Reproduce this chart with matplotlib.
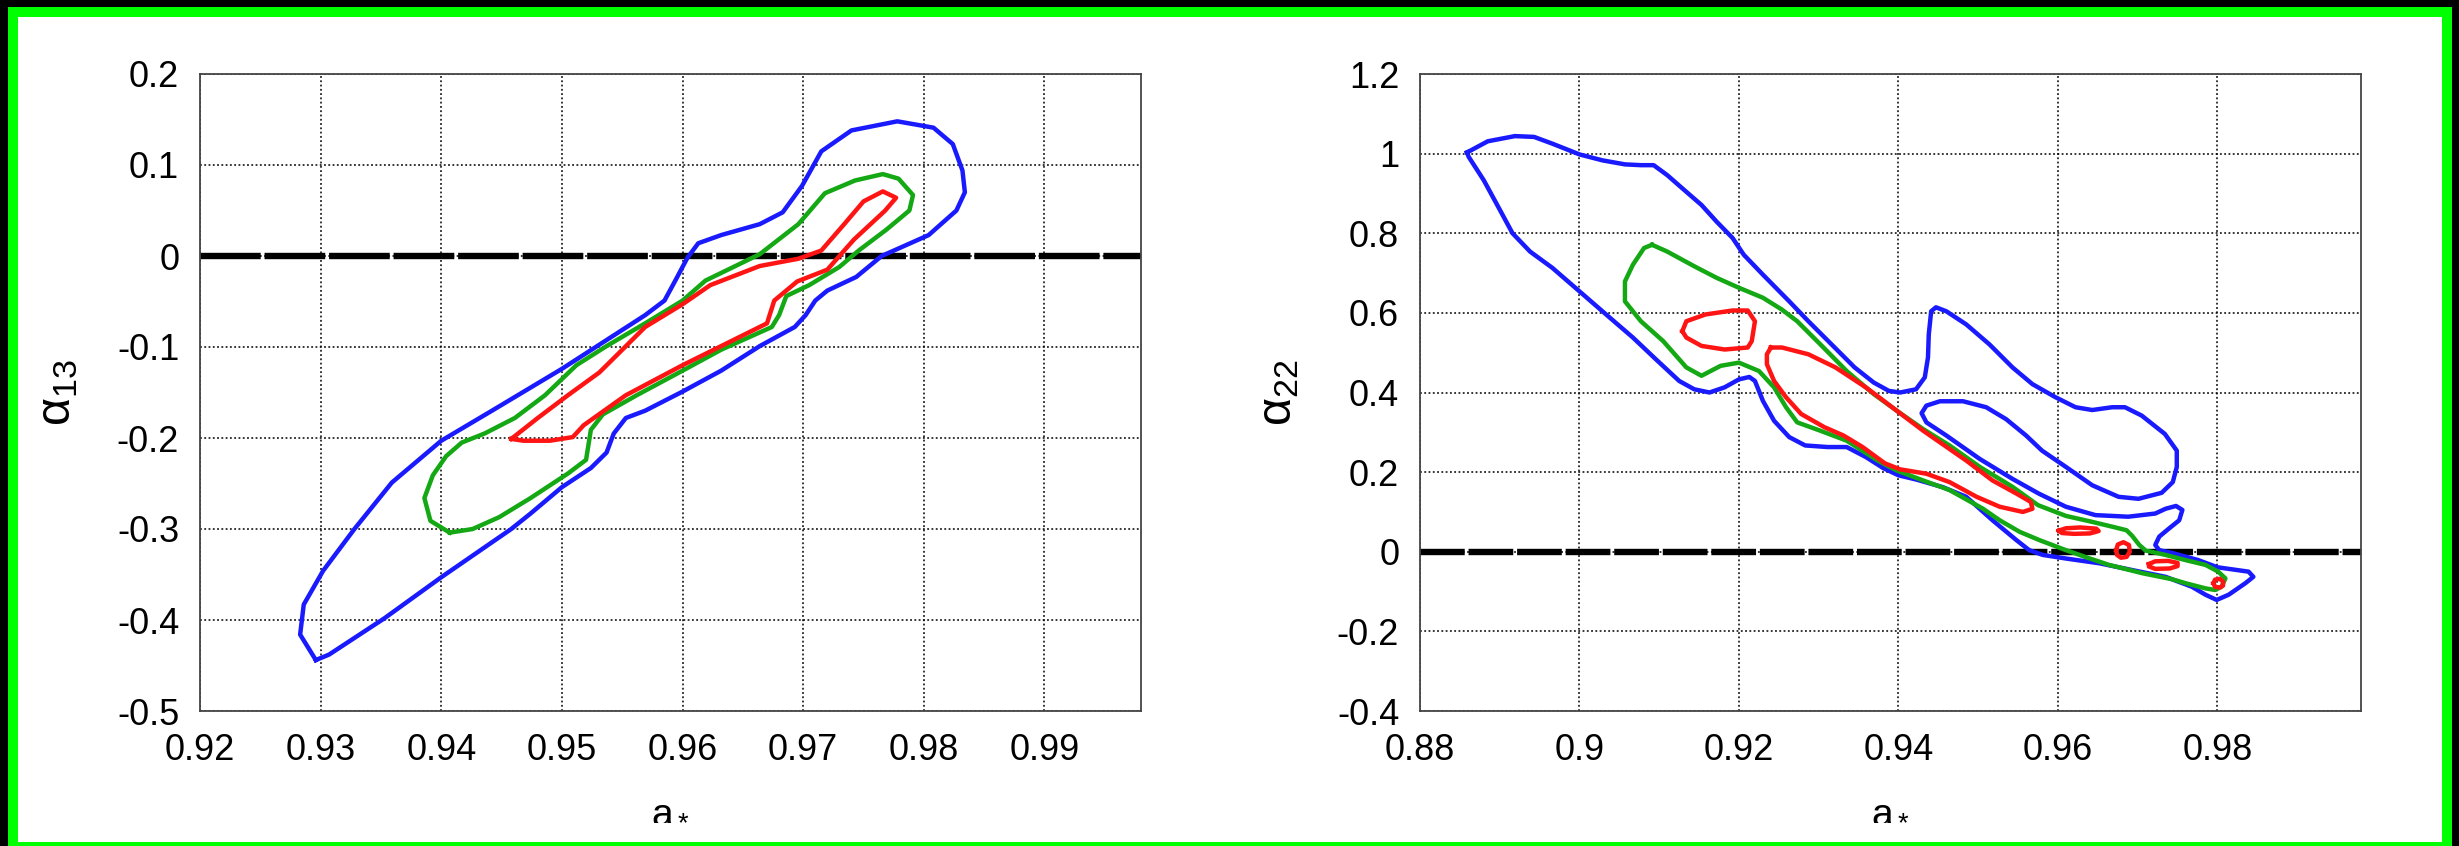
import numpy as np
import matplotlib.pyplot as plt
from matplotlib.patches import Rectangle

plt.rcParams['font.family'] = ['Liberation Sans', 'DejaVu Sans']
plt.rcParams['mathtext.fontset'] = 'custom'
plt.rcParams['mathtext.rm'] = 'Liberation Sans'
plt.rcParams['mathtext.it'] = 'Liberation Sans'
plt.rcParams['mathtext.bf'] = 'Liberation Sans'

# ---------------- left panel: alpha_13 vs a* ----------------
left_xticks = [0.92, 0.93, 0.94, 0.95, 0.96, 0.97, 0.98, 0.99]
left_xlabels = ['0.92', '0.93', '0.94', '0.95', '0.96', '0.97', '0.98', '0.99']
left_yticks = [-0.5, -0.4, -0.3, -0.2, -0.1, 0.0, 0.1, 0.2]
left_ylabels = ['-0.5', '-0.4', '-0.3', '-0.2', '-0.1', '0', '0.1', '0.2']

# blue (outermost) contour
left_blue_x = [0.9296, 0.9283, 0.9286, 0.9302, 0.9328, 0.9359, 0.9400, 0.9442, 0.9500,
               0.9569, 0.9585, 0.9594, 0.9604, 0.9613, 0.9632, 0.9664, 0.9683, 0.9699,
               0.9715, 0.9740, 0.9778, 0.9808, 0.9824, 0.9832, 0.9834, 0.9827, 0.9804,
               0.9765, 0.9744, 0.9720, 0.9710, 0.9702, 0.9693, 0.9664, 0.9632, 0.9600,
               0.9569, 0.9553, 0.9543, 0.9537, 0.9524, 0.9500, 0.9474, 0.9458, 0.9400,
               0.9353, 0.9307]
left_blue_y = [-0.444, -0.416, -0.383, -0.346, -0.300, -0.249, -0.203, -0.170, -0.124,
               -0.065, -0.049, -0.027, -0.002, 0.014, 0.023, 0.035, 0.048, 0.077,
               0.115, 0.138, 0.148, 0.141, 0.123, 0.094, 0.070, 0.050, 0.023,
               0.000, -0.023, -0.038, -0.049, -0.065, -0.078, -0.099, -0.126, -0.149,
               -0.170, -0.178, -0.195, -0.216, -0.233, -0.254, -0.283, -0.300, -0.353,
               -0.398, -0.438]

# green (middle) contour
left_green_x = [0.9407, 0.9391, 0.9386, 0.9393, 0.9404, 0.9417, 0.9436, 0.9461, 0.9486,
                0.9512, 0.9537, 0.9569, 0.9600, 0.9619, 0.9664, 0.9696, 0.9718, 0.9743,
                0.9766, 0.9779, 0.9791, 0.9788, 0.9769, 0.9746, 0.9730, 0.9705, 0.9686,
                0.9680, 0.9674, 0.9632, 0.9600, 0.9562, 0.9534, 0.9524, 0.9520, 0.9505,
                0.9474, 0.9448, 0.9426]
left_green_y = [-0.304, -0.291, -0.266, -0.241, -0.220, -0.205, -0.195, -0.178, -0.153,
                -0.120, -0.099, -0.074, -0.049, -0.027, 0.002, 0.035, 0.069, 0.083,
                0.090, 0.085, 0.067, 0.050, 0.029, 0.006, -0.012, -0.032, -0.044,
                -0.065, -0.078, -0.103, -0.126, -0.153, -0.174, -0.191, -0.224, -0.239,
                -0.266, -0.287, -0.300]

# red (innermost) contour
left_red_x = [0.9458, 0.9480, 0.9505, 0.9531, 0.9547, 0.9569, 0.9600, 0.9623, 0.9664,
              0.9696, 0.9715, 0.9734, 0.9750, 0.9766, 0.9777, 0.9768, 0.9742, 0.9720,
              0.9695, 0.9676, 0.9670, 0.9632, 0.9600, 0.9553, 0.9518, 0.9509, 0.9490,
              0.9468]
left_red_y = [-0.201, -0.178, -0.153, -0.128, -0.107, -0.078, -0.053, -0.032, -0.011,
              -0.003, 0.006, 0.035, 0.060, 0.071, 0.064, 0.050, 0.018, -0.015,
              -0.028, -0.049, -0.074, -0.099, -0.120, -0.153, -0.186, -0.199, -0.203,
              -0.203]

# ---------------- right panel: alpha_22 vs a* ----------------
right_xticks = [0.88, 0.90, 0.92, 0.94, 0.96, 0.98]
right_xlabels = ['0.88', '0.9', '0.92', '0.94', '0.96', '0.98']
right_yticks = [-0.4, -0.2, 0.0, 0.2, 0.4, 0.6, 0.8, 1.0, 1.2]
right_ylabels = ['-0.4', '-0.2', '0', '0.2', '0.4', '0.6', '0.8', '1', '1.2']

right_blue_x = [0.8859, 0.8885, 0.8919, 0.8943, 0.8966, 0.9000, 0.9029, 0.9057, 0.9077,
                0.9093, 0.9110, 0.9134, 0.9153, 0.9172, 0.9192, 0.9206, 0.9230, 0.9263,
                0.9287, 0.9316, 0.9345, 0.9369, 0.9388, 0.9402, 0.9422, 0.9433, 0.9437,
                0.9438, 0.9441, 0.9447, 0.9460, 0.9485, 0.9514, 0.9543, 0.9568, 0.9597,
                0.9622, 0.9643, 0.9668, 0.9684, 0.9705, 0.9734, 0.9749, 0.9749, 0.9744,
                0.9730, 0.9701, 0.9676, 0.9643, 0.9610, 0.9580, 0.9560, 0.9535, 0.9510,
                0.9481, 0.9452, 0.9435, 0.9429, 0.9435, 0.9460, 0.9502, 0.9543, 0.9576,
                0.9610, 0.9647, 0.9688, 0.9722, 0.9735, 0.9748, 0.9756, 0.9752, 0.9739,
                0.9727, 0.9722, 0.9727, 0.9743, 0.9776, 0.9800, 0.9839, 0.9845, 0.9835,
                0.9814, 0.9799, 0.9785, 0.9768, 0.9735, 0.9693, 0.9652, 0.9610, 0.9581,
                0.9564, 0.9548, 0.9518, 0.9485, 0.9456, 0.9423, 0.9400, 0.9381, 0.9359,
                0.9335, 0.9311, 0.9283, 0.9263, 0.9244, 0.9230, 0.9220, 0.9213, 0.9200,
                0.9182, 0.9163, 0.9144, 0.9125, 0.9096, 0.9067, 0.9038, 0.9000, 0.8966,
                0.8938, 0.8916, 0.8899, 0.8880, 0.8861]
right_blue_y = [1.003, 1.031, 1.044, 1.042, 1.025, 0.998, 0.983, 0.973, 0.971,
                0.971, 0.946, 0.904, 0.871, 0.829, 0.788, 0.746, 0.696, 0.629,
                0.579, 0.521, 0.463, 0.425, 0.404, 0.400, 0.408, 0.438, 0.488,
                0.546, 0.604, 0.614, 0.604, 0.571, 0.521, 0.463, 0.421, 0.388,
                0.363, 0.356, 0.363, 0.363, 0.342, 0.296, 0.254, 0.213, 0.175,
                0.148, 0.133, 0.138, 0.167, 0.213, 0.254, 0.292, 0.333, 0.363,
                0.378, 0.378, 0.367, 0.348, 0.325, 0.292, 0.233, 0.183, 0.146,
                0.113, 0.092, 0.088, 0.096, 0.108, 0.115, 0.105, 0.079, 0.058,
                0.038, 0.017, 0.004, -0.003, -0.021, -0.039, -0.050, -0.063, -0.079,
                -0.108, -0.121, -0.108, -0.088, -0.063, -0.046, -0.029, -0.017, -0.008,
                0.004, 0.029, 0.079, 0.138, 0.162, 0.181, 0.192, 0.210, 0.238,
                0.263, 0.263, 0.267, 0.288, 0.329, 0.379, 0.429, 0.439, 0.433,
                0.413, 0.400, 0.408, 0.429, 0.483, 0.538, 0.588, 0.654, 0.713,
                0.754, 0.800, 0.863, 0.933, 0.992]

right_green_x = [0.9091, 0.9110, 0.9144, 0.9172, 0.9200, 0.9230, 0.9254, 0.9273, 0.9302,
                 0.9335, 0.9369, 0.9398, 0.9431, 0.9464, 0.9502, 0.9543, 0.9575, 0.9610,
                 0.9643, 0.9670, 0.9686, 0.9693, 0.9702, 0.9710, 0.9735, 0.9760, 0.9785,
                 0.9801, 0.9810, 0.9805, 0.9797, 0.9785, 0.9760, 0.9743, 0.9706, 0.9664,
                 0.9640, 0.9610, 0.9577, 0.9552, 0.9527, 0.9506, 0.9464, 0.9431, 0.9398,
                 0.9374, 0.9335, 0.9302, 0.9273, 0.9259, 0.9244, 0.9225, 0.9200, 0.9177,
                 0.9153, 0.9134, 0.9105, 0.9077, 0.9057, 0.9057, 0.9067, 0.9081]
right_green_y = [0.771, 0.754, 0.717, 0.688, 0.663, 0.638, 0.608, 0.579, 0.521,
                 0.454, 0.396, 0.354, 0.308, 0.267, 0.213, 0.163, 0.117, 0.090,
                 0.075, 0.062, 0.054, 0.040, 0.017, 0.003, -0.008, -0.021, -0.033,
                 -0.050, -0.067, -0.088, -0.096, -0.092, -0.079, -0.069, -0.054, -0.033,
                 -0.017, 0.004, 0.029, 0.050, 0.079, 0.108, 0.155, 0.179, 0.204,
                 0.229, 0.279, 0.304, 0.325, 0.363, 0.413, 0.454, 0.475, 0.467,
                 0.442, 0.463, 0.529, 0.579, 0.629, 0.679, 0.721, 0.763]

# red contour is split in several closed pieces
right_red1_x = [0.9129, 0.9134, 0.9158, 0.9192, 0.9211, 0.9220, 0.9216, 0.9211, 0.9182,
                0.9153, 0.9134]
right_red1_y = [0.554, 0.579, 0.596, 0.606, 0.606, 0.579, 0.529, 0.513, 0.508,
                0.517, 0.538]
right_red2_x = [0.9240, 0.9254, 0.9287, 0.9321, 0.9359, 0.9398, 0.9431, 0.9485, 0.9518,
                0.9548, 0.9566, 0.9568, 0.9556, 0.9527, 0.9498, 0.9464, 0.9435, 0.9402,
                0.9383, 0.9355, 0.9331, 0.9307, 0.9278, 0.9259, 0.9244, 0.9235, 0.9235]
right_red2_y = [0.513, 0.513, 0.496, 0.463, 0.413, 0.354, 0.304, 0.229, 0.179,
                0.146, 0.125, 0.108, 0.100, 0.113, 0.138, 0.175, 0.196, 0.207,
                0.222, 0.263, 0.292, 0.313, 0.346, 0.388, 0.429, 0.471, 0.496]
right_red3_x = [0.9601, 0.9610, 0.9628, 0.9648, 0.9651, 0.9640, 0.9620, 0.9605]
right_red3_y = [0.053, 0.059, 0.061, 0.058, 0.052, 0.046, 0.045, 0.047]
right_red4_x = [0.9673, 0.9675, 0.9682, 0.9689, 0.9690, 0.9686, 0.9679, 0.9674]
right_red4_y = [0.004, 0.018, 0.024, 0.017, 0.000, -0.013, -0.015, -0.008]
right_red5_x = [0.9714, 0.9722, 0.9738, 0.9750, 0.9750, 0.9740, 0.9722, 0.9714]
right_red5_y = [-0.031, -0.024, -0.023, -0.028, -0.036, -0.042, -0.043, -0.037]
right_red6_x = [0.9795, 0.9797, 0.9803, 0.9807, 0.9807, 0.9803, 0.9797]
right_red6_y = [-0.079, -0.070, -0.068, -0.075, -0.085, -0.090, -0.088]

BLUE = '#1a1aff'
GREEN = '#14a814'
RED = '#ff1414'

W, H = 2459, 846
fig = plt.figure(figsize=(W / 100, H / 100), dpi=100, facecolor='black')
# green frame around a white page
fig.patches.append(Rectangle((8 / W, 0), (2452 - 8) / W, (H - 7) / H,
                             transform=fig.transFigure, facecolor='#00ff00',
                             edgecolor='none', zorder=-2))
fig.patches.append(Rectangle((18 / W, 4 / H), (2442 - 18) / W, (H - 17 - 4) / H,
                             transform=fig.transFigure, facecolor='white',
                             edgecolor='none', zorder=-1))


def closed(xs, ys):
    return np.append(xs, xs[0]), np.append(ys, ys[0])


def setup(ax, xlim, ylim, xt, xl, yt, yl, ylabel, ylab_x, dash):
    ax.set_xlim(xlim)
    ax.set_ylim(ylim)
    ax.set_xticks(xt, xl)
    ax.set_yticks(yt, yl)
    ax.set_facecolor('white')
    ax.grid(True, color='black', linestyle=(0, (1.2, 1.6)), linewidth=1.1)
    ax.set_axisbelow(True)
    ax.tick_params(length=0, labelsize=26)
    ax.tick_params(axis='x', pad=16)
    ax.tick_params(axis='y', pad=15)
    for s in ax.spines.values():
        s.set_color('#444444')
        s.set_linewidth(1.3)
    ax.axhline(0, color='black', linewidth=4.6, dashes=dash, zorder=2)
    ax.set_xlabel(r'a$_*$', fontsize=28)
    ax.xaxis.label.set_va('center')
    ax.xaxis.set_label_coords(0.5, -(810 - 711) / 636)
    ax.set_ylabel(ylabel, fontsize=35)
    ax.yaxis.label.set_va('center')
    ax.yaxis.set_label_coords(ylab_x, 0.5)


ax1 = fig.add_axes([200 / W, 135 / H, 941 / W, 637 / H])
setup(ax1, (0.92, 0.998), (-0.5, 0.2), left_xticks, left_xlabels,
      left_yticks, left_ylabels, r'$\alpha_{13}$', (58 - 200) / 941, (9.5, 0.6))
for xs, ys, c in [(left_blue_x, left_blue_y, BLUE),
                  (left_green_x, left_green_y, GREEN),
                  (left_red_x, left_red_y, RED)]:
    cx, cy = closed(xs, ys)
    ax1.plot(cx, cy, color=c, linewidth=3.2, zorder=3)

ax2 = fig.add_axes([1420 / W, 135 / H, 941 / W, 637 / H])
setup(ax2, (0.88, 0.998), (-0.4, 1.2), right_xticks, right_xlabels,
      right_yticks, right_ylabels, r'$\alpha_{22}$', (1279 - 1420) / 941, (7.0, 0.6))
cx, cy = closed(right_blue_x, right_blue_y)
ax2.plot(cx, cy, color=BLUE, linewidth=3.2, zorder=3)
cx, cy = closed(right_green_x, right_green_y)
ax2.plot(cx, cy, color=GREEN, linewidth=3.2, zorder=3)
for xs, ys in [(right_red1_x, right_red1_y), (right_red2_x, right_red2_y),
               (right_red3_x, right_red3_y), (right_red4_x, right_red4_y),
               (right_red5_x, right_red5_y), (right_red6_x, right_red6_y)]:
    cx, cy = closed(xs, ys)
    ax2.plot(cx, cy, color=RED, linewidth=3.2, zorder=3)

fig.savefig('out.png', dpi=100, facecolor=fig.get_facecolor())
